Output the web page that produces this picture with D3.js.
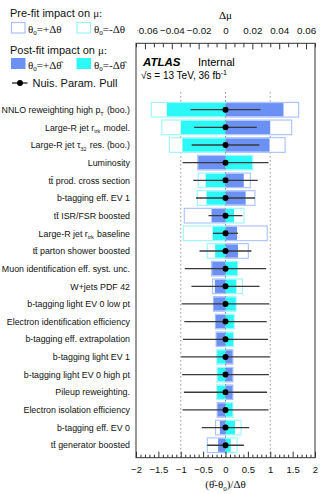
<!DOCTYPE html>
<html>
<head>
<meta charset="utf-8">
<script src="https://cdn.jsdelivr.net/npm/d3@7"></script>
<style>
  html, body { margin: 0; padding: 0; background: #fff; }
  svg { display: block; font-family: "Liberation Sans", Arial, sans-serif; }
</style>
</head>
<body>
<svg id="chart" width="320" height="494"></svg>
<script>
// Nuisance parameters, ranked by impact on mu (top to bottom)
const params = [
  "NNLO reweighting high p_{T} (boo.)",
  "Large-R jet r_{trk} model.",
  "Large-R jet \u03c4_{32} res. (boo.)",
  "Luminosity",
  "tt\u0304 prod. cross section",
  "b-tagging eff. EV 1",
  "tt\u0304 ISR/FSR boosted",
  "Large-R jet r_{trk} baseline",
  "tt\u0304 parton shower boosted",
  "Muon identification eff. syst. unc.",
  "W+jets PDF 42",
  "b-tagging light EV 0 low pt",
  "Electron identification efficiency",
  "b-tagging eff. extrapolation",
  "b-tagging light EV 1",
  "b-tagging light EV 0 high pt",
  "Pileup reweighting.",
  "Electron isolation efficiency",
  "b-tagging eff. EV 0",
  "tt\u0304 generator boosted"
];

// Pre-fit impact on mu for theta0 = +dtheta and theta0 = -dtheta
const prefitUp   = [ 0.0545,  0.0493,  0.0444, -0.0207,  0.0185,  0.0219, -0.0307,  0.0311,  0.0170, -0.0104, -0.0096, -0.0090, -0.0075, -0.0070,  0.0055,  0.0055,  0.0055, -0.0062, -0.0074, -0.0136];
const prefitDown = [-0.0553, -0.0474, -0.0418,  0.0203, -0.0203, -0.0210,  0.0138, -0.0314, -0.0136,  0.0090,  0.0126,  0.0079,  0.0065,  0.0059, -0.0065, -0.0062, -0.0065,  0.0055,  0.0116,  0.0086];

// Post-fit impact on mu
const postfitUp   = [ 0.0432,  0.0333,  0.0328, -0.0203,  0.0136,  0.0150, -0.0104,  0.0086,  0.0093, -0.0099, -0.0079, -0.0087, -0.0072, -0.0067,  0.0052,  0.0052,  0.0052, -0.0059, -0.0042, -0.0055];
const postfitDown = [-0.0437, -0.0333, -0.0321,  0.0197, -0.0148, -0.0141,  0.0064, -0.0096, -0.0077,  0.0086,  0.0081,  0.0076,  0.0062,  0.0056, -0.0062, -0.0059, -0.0062,  0.0052,  0.0071,  0.0039];

// Nuisance parameter pulls and their post-fit uncertainties
const pull    = [0, 0, 0, 0, 0, 0, 0, 0, 0, 0, 0, 0, 0, 0, 0, 0, 0, 0, 0, 0];
const pullErr = [0.78, 0.70, 0.755, 0.96, 0.72, 0.66, 0.38, 0.28, 0.58, 0.91, 0.76, 0.98, 0.92, 0.95, 0.99, 0.97, 0.93, 0.96, 0.53, 0.41];

// Axis ticks
const pullTicks = [-2, -1.5, -1, -0.5, 0, 0.5, 1, 1.5, 2];
const muTicks = [-0.06, -0.04, -0.02, 0, 0.02, 0.04, 0.06];

const colBlue = "#6b91f4";
const colCyan = "#2cf8f8";
const colBlueLine = "#a9c1ff";
const colCyanLine = "#98f6fb";

const svg = d3.select("#chart");

const frame = { left: 136, right: 315, top: 43.3, bottom: 457.7 };

const x = d3.scaleLinear().domain([-2, 2]).range([frame.left, frame.right]);
const xMu = d3.scaleLinear().domain([-0.2 / 3, 0.2 / 3]).range([frame.left, frame.right]);
const y = d3.scaleBand().domain(d3.range(params.length)).range([100.87, 454.07]).padding(0);
const bw = y.bandwidth();
const yc = i => y(i) + bw / 2;

// --- reference lines at -1, 0, +1 sigma
svg.append("g").selectAll("line").data([-1, 0, 1]).join("line")
  .attr("x1", d => x(d)).attr("x2", d => x(d))
  .attr("y1", 92).attr("y2", frame.bottom)
  .attr("stroke", "#9a9a9a").attr("stroke-width", 1)
  .attr("stroke-dasharray", "1.5,2.5");

// --- pre-fit impact boxes (outlined)
const rows = d3.range(params.length);
const preH = bw * 0.83;
const postH = bw * 0.75;

function box(g, vals, h, fill, stroke, sw) {
  g.selectAll("rect").data(rows).join("rect")
    .attr("x", i => Math.min(xMu(0), xMu(vals[i])))
    .attr("width", i => Math.abs(xMu(vals[i]) - xMu(0)))
    .attr("y", i => yc(i) - h / 2)
    .attr("height", h)
    .attr("fill", fill)
    .attr("stroke", stroke)
    .attr("stroke-width", sw);
}
box(svg.append("g"), prefitUp, preH, "#fff", colBlueLine, 1.1);
box(svg.append("g"), prefitDown, preH, "#fff", colCyanLine, 1.1);

// --- post-fit impact boxes (filled)
box(svg.append("g"), postfitUp, postH, colBlue, "none", 0);
box(svg.append("g"), postfitDown, postH, colCyan, "none", 0);

// redraw the zero dashed line on top of the filled boxes
svg.append("line")
  .attr("x1", x(0)).attr("x2", x(0))
  .attr("y1", 92).attr("y2", frame.bottom)
  .attr("stroke", "#8a8a8a").attr("stroke-width", 0.8)
  .attr("stroke-dasharray", "1.5,2.5");

// --- pulls
const pullG = svg.append("g");
pullG.selectAll("line").data(rows).join("line")
  .attr("x1", i => x(pull[i] - pullErr[i]))
  .attr("x2", i => x(pull[i] + pullErr[i]))
  .attr("y1", yc).attr("y2", yc)
  .attr("stroke", "#3a3a3a").attr("stroke-width", 1.3);
pullG.selectAll("circle").data(rows).join("circle")
  .attr("cx", i => x(pull[i])).attr("cy", yc).attr("r", 3)
  .attr("fill", "#000");

// --- frame
svg.append("rect")
  .attr("x", frame.left).attr("y", frame.top)
  .attr("width", frame.right - frame.left).attr("height", frame.bottom - frame.top)
  .attr("fill", "none").attr("stroke", "#333").attr("stroke-width", 1);

// --- bottom axis (pull)
const minorPull = d3.range(-20, 21).map(k => k / 10).filter(v => Math.abs(v * 2 - Math.round(v * 2)) > 1e-6);
svg.append("g").attr("transform", `translate(0,${frame.bottom})`)
  .call(d3.axisBottom(x).tickValues(minorPull).tickSizeInner(-3).tickSizeOuter(0).tickFormat(""))
  .call(g => g.select(".domain").remove())
  .call(g => g.selectAll("line").attr("stroke", "#333"));
svg.append("g").attr("transform", `translate(0,${frame.bottom})`)
  .call(d3.axisBottom(x).tickValues(pullTicks).tickSizeInner(-6).tickSizeOuter(0).tickPadding(8.5)
    .tickFormat(d => d3.format("")(d).replace("-", "\u2212")))
  .call(g => g.select(".domain").remove())
  .call(g => g.selectAll("line").attr("stroke", "#333"))
  .call(g => g.selectAll("text").attr("font-size", 9.5).attr("fill", "#111")
    .attr("font-family", "Liberation Sans, Arial, sans-serif"));

// --- top axis (delta mu); labels are cut at the left edge of the plot pad
svg.append("defs").append("clipPath").attr("id", "topclip")
  .append("rect").attr("x", 137.5).attr("y", -43).attr("width", 200).attr("height", 60);
const minorMu = d3.range(-10, 11).map(k => k * 0.02 / 3).filter(v => Math.abs(v / 0.02 - Math.round(v / 0.02)) > 1e-6);
svg.append("g").attr("transform", `translate(0,${frame.top})`)
  .call(d3.axisTop(xMu).tickValues(minorMu).tickSizeInner(-4).tickSizeOuter(0).tickFormat(""))
  .call(g => g.select(".domain").remove())
  .call(g => g.selectAll("line").attr("stroke", "#333"));
svg.append("g").attr("transform", `translate(0,${frame.top})`)
  .attr("clip-path", "url(#topclip)")
  .call(d3.axisTop(xMu).tickValues(muTicks).tickSizeInner(-6).tickSizeOuter(0).tickPadding(9.5)
    .tickFormat(d => d3.format("")(d).replace("-", "\u2212")))
  .call(g => g.select(".domain").remove())
  .call(g => g.selectAll("line").attr("stroke", "#333"))
  .call(g => g.selectAll("text").attr("font-size", 9.8).attr("fill", "#111")
    .attr("font-family", "Liberation Sans, Arial, sans-serif"));

// --- axis titles
const serif = "Liberation Serif, Times New Roman, serif";
svg.append("text").attr("x", x(0)).attr("y", 19).attr("text-anchor", "middle")
  .attr("font-family", serif).attr("font-size", 11).text("\u0394\u03bc");

const xt = svg.append("text").attr("x", x(0)).attr("y", 488).attr("text-anchor", "middle")
  .attr("font-family", serif).attr("font-size", 11).attr("fill", "#111");
xt.append("tspan").text("(\u03b8\u0302-\u03b8");
xt.append("tspan").attr("font-size", 7).attr("dy", 2.5).text("0");
xt.append("tspan").attr("dy", -2.5).text(")/\u0394\u03b8");

// --- parameter labels (supports _{sub})
function richText(sel, str, size) {
  const parts = str.split(/(_\{[^}]*\})/).filter(s => s.length);
  parts.forEach(p => {
    if (p.startsWith("_{")) {
      sel.append("tspan").attr("font-size", size * 0.62).attr("dy", size * 0.3).text(p.slice(2, -1));
      sel.append("tspan").attr("dy", -size * 0.3).text("\u200a");
    } else {
      sel.append("tspan").text(p);
    }
  });
}
const labelFs = 8.85;
const labelG = svg.append("g");
rows.forEach(i => {
  const t = labelG.append("text")
    .attr("x", 130).attr("y", yc(i) + 3.2)
    .attr("text-anchor", "end").attr("font-size", labelFs).attr("fill", "#111");
  richText(t, params[i], labelFs);
});

// --- ATLAS label
svg.append("text").attr("x", 143).attr("y", 66).attr("font-size", 11.5)
  .attr("font-weight", "bold").attr("font-style", "italic").text("ATLAS");
svg.append("text").attr("x", 198).attr("y", 66).attr("font-size", 11).text("Internal");
const ecm = svg.append("text").attr("x", 141).attr("y", 79).attr("font-size", 10);
ecm.append("tspan").text("\u221as = 13 TeV, 36 fb");
ecm.append("tspan").attr("font-size", 7).attr("dy", -4).text("-1");

// --- legend
const leg = svg.append("g");
function legLabel(xp, yp) {
  return leg.append("text").attr("x", xp).attr("y", yp).attr("font-size", 11)
    .attr("font-family", serif).attr("fill", "#111");
}
function thetaEntry(t, sign, hat) {
  t.append("tspan").text("\u03b8");
  t.append("tspan").attr("font-size", 7).attr("dy", 2.5).text("0");
  t.append("tspan").attr("dy", -2.5).text("=" + sign + "\u0394" + (hat ? "\u03b8\u0302" : "\u03b8"));
}
leg.append("text").attr("x", 10).attr("y", 16.5).attr("font-size", 11).attr("fill", "#111")
  .call(t => { t.append("tspan").text("Pre-fit impact on "); t.append("tspan").attr("font-family", serif).text("\u03bc:"); });
leg.append("rect").attr("x", 11.5).attr("y", 22.5).attr("width", 13.5).attr("height", 10.5)
  .attr("fill", "#fff").attr("stroke", colBlueLine).attr("stroke-width", 1.2);
thetaEntry(legLabel(28, 32.5), "+", false);
leg.append("rect").attr("x", 77).attr("y", 22.5).attr("width", 13.5).attr("height", 10.5)
  .attr("fill", "#fff").attr("stroke", colCyanLine).attr("stroke-width", 1.2);
thetaEntry(legLabel(94, 32.5), "-", false);

leg.append("text").attr("x", 10).attr("y", 53.5).attr("font-size", 11).attr("fill", "#111")
  .call(t => { t.append("tspan").text("Post-fit impact on "); t.append("tspan").attr("font-family", serif).text("\u03bc:"); });
leg.append("rect").attr("x", 11).attr("y", 58).attr("width", 14.5).attr("height", 11)
  .attr("fill", colBlue);
thetaEntry(legLabel(28, 68.5), "+", true);
leg.append("rect").attr("x", 76.5).attr("y", 58).attr("width", 14.5).attr("height", 11)
  .attr("fill", colCyan);
thetaEntry(legLabel(94, 68.5), "-", true);

leg.append("line").attr("x1", 12).attr("x2", 27.5).attr("y1", 83).attr("y2", 83)
  .attr("stroke", "#222").attr("stroke-width", 1.3);
leg.append("circle").attr("cx", 20).attr("cy", 83).attr("r", 3).attr("fill", "#000");
leg.append("text").attr("x", 32.5).attr("y", 87).attr("font-size", 11).attr("fill", "#111")
  .text("Nuis. Param. Pull");
</script>
</body>
</html>
